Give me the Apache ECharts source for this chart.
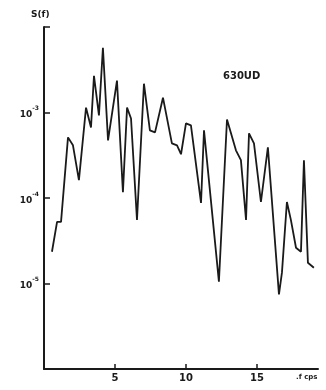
<!DOCTYPE html>
<html>
<head>
<meta charset="utf-8">
<script src="https://cdn.jsdelivr.net/npm/echarts@6/dist/echarts.min.js"></script>
<style>html,body{margin:0;padding:0;background:#fff}#c{width:326px;height:390px}</style>
</head>
<body>
<div id="c"></div>
<script>
// frequency (cps)
var freq = [0.56,0.92,1.20,1.69,2.04,2.46,2.96,3.31,3.52,3.87,4.15,4.51,5.14,5.56,5.85,6.13,6.55,7.04,7.46,7.82,8.38,9.01,9.37,9.65,10.00,10.35,11.06,11.27,12.32,12.89,13.52,13.87,14.23,14.44,14.79,15.28,15.77,16.55,16.76,17.11,17.39,17.75,18.10,18.31,18.59,19.01];
// spectral density S(f)
var spectrum = [2.35e-5,5.26e-5,5.26e-5,5.12e-4,4.13e-4,1.62e-4,1.14e-3,6.69e-4,2.69e-3,9.23e-4,5.71e-3,4.72e-4,2.36e-3,1.17e-4,1.14e-3,8.51e-4,5.54e-5,2.17e-3,6.18e-4,5.85e-4,1.49e-3,4.36e-4,4.13e-4,3.25e-4,7.45e-4,7.06e-4,8.75e-5,6.18e-4,1.05e-5,8.29e-4,3.61e-4,2.77e-4,5.54e-5,5.70e-4,4.36e-4,8.98e-5,3.92e-4,7.45e-6,1.34e-5,8.98e-5,5.54e-5,2.62e-5,2.35e-5,2.77e-4,1.75e-5,1.53e-5];
var xTicks = [5, 10, 15];
var yTicks = [1e-5, 1e-4, 1e-3, 1e-2];
var yLabelExps = [-3, -4, -5];
var seriesName = '630UD';

var pts = freq.map(function (f, i) { return [f, spectrum[i]]; });
var ink = '#1a1a1a';
var font = 'DejaVu Sans';

var chart = echarts.init(document.getElementById('c'), null, {renderer: 'canvas'});
chart.setOption({
  animation: false,
  backgroundColor: '#fff',
  grid: {left: 44, right: 8, top: 27, bottom: 21, containLabel: false},
  title: [
    {text: 'S(f)', left: 26, top: 5, textStyle: {fontFamily: font, fontSize: 9, fontWeight: 'bold', color: ink}},
    {text: seriesName, left: 218, top: 66, textStyle: {fontFamily: font, fontSize: 10, fontWeight: 'bold', color: ink}}
  ],
  graphic: [
    {type: 'text', left: 296, top: 374, style: {text: '.f cps', font: 'bold 7px DejaVu Sans', fill: ink}}
  ],
  xAxis: {
    type: 'value', min: 0, max: 19.3,
    axisLine: {lineStyle: {color: ink, width: 2}},
    axisTick: {inside: true, length: 5, lineStyle: {color: ink, width: 1.5}, customValues: xTicks},
    axisLabel: {customValues: xTicks, margin: 4, fontFamily: font, fontSize: 10, fontWeight: 'bold', color: ink},
    splitLine: {show: false}
  },
  yAxis: {
    type: 'log', min: 1e-6, max: 1e-2, logBase: 10,
    axisLine: {show: true, lineStyle: {color: ink, width: 2}},
    axisTick: {show: true, inside: true, length: 6, lineStyle: {color: ink, width: 1.5}, customValues: yTicks},
    axisLabel: {
      customValues: yLabelExps.map(function (e) { return Math.pow(10, e); }),
      margin: 5,
      formatter: function (v) {
        var e = Math.round(Math.log10(v));
        return '{b|10}{s|' + e + '}';
      },
      rich: {
        b: {fontFamily: font, fontSize: 9, fontWeight: 'bold', color: ink, padding: [5, 0, 0, 0]},
        s: {fontFamily: font, fontSize: 6, fontWeight: 'bold', color: ink, verticalAlign: 'top'}
      }
    },
    splitLine: {show: false}
  },
  series: [{
    type: 'line', name: seriesName, data: pts, showSymbol: false,
    lineStyle: {color: ink, width: 1.8}
  }]
});
</script>
</body>
</html>
